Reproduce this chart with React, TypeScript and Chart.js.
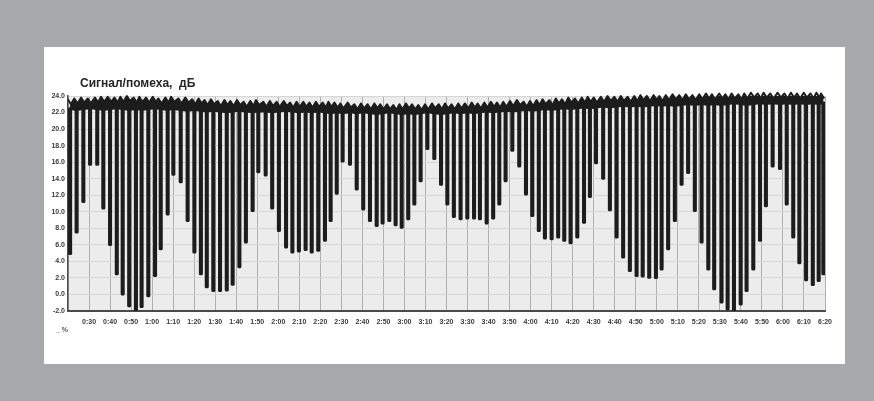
import React, { useEffect, useRef } from "react";
import { Chart, registerables } from "chart.js";
Chart.register(...registerables);

// Dip centres in minutes from the start of the recording
const dipTimes = [
  21.0, 24.1, 27.3, 30.5, 33.9, 36.8, 40.0, 43.2, 46.0, 49.1,
  52.3, 55.0, 58.2, 61.4, 64.1, 67.4, 70.1, 73.6, 76.9, 80.1,
  83.2, 86.0, 89.1, 92.3, 95.5, 98.3, 101.5, 104.6, 107.8, 110.5,
  114.0, 117.1, 120.3, 123.7, 126.7, 129.8, 133.0, 135.9, 139.0, 142.2,
  144.9, 147.8, 150.6, 154.1, 157.3, 160.4, 163.6, 166.8, 169.6, 172.8,
  175.8, 178.7, 181.8, 184.7, 187.7, 190.9, 194.2, 197.4, 200.4, 203.5,
  206.7, 209.9, 213.1, 215.9, 219.1, 222.2, 225.1, 228.1, 231.3, 234.6,
  237.8, 240.8, 243.9, 246.8, 250.0, 253.1, 256.0, 259.0, 262.2, 265.4,
  268.2, 271.1, 274.5, 277.7, 280.9, 284.0, 287.2, 290.4, 293.3, 296.4,
  299.6, 302.3, 305.4, 308.6, 311.8, 314.9, 318.1, 321.3, 324.5, 327.3,
  330.8, 333.7, 336.7, 339.9, 342.7, 345.9, 349.1, 351.9, 355.1, 358.6,
  361.8, 364.9, 367.8, 371.0, 374.2, 377.0, 379.2,
];

// Minimum S/N at each dip, dB
const dipMins = [
  4.8, 7.4, 11.1, 15.6, 15.6, 10.3, 5.9, 2.35, -0.1, -1.5,
  -2.2, -1.6, -0.3, 2.15, 5.4, 9.6, 14.4, 13.5, 8.8, 5.0,
  2.35, 0.8, 0.35, 0.35, 0.4, 1.1, 3.2, 6.2, 10.0, 14.7,
  14.3, 10.3, 7.6, 5.6, 5.0, 5.1, 5.3, 5.0, 5.2, 6.4,
  8.8, 12.1, 16.0, 15.6, 12.6, 10.2, 8.8, 8.2, 8.5, 8.8,
  8.3, 8.0, 9.0, 10.8, 13.6, 17.5, 16.3, 13.2, 10.8, 9.3,
  9.0, 9.1, 9.1, 9.0, 8.5, 9.1, 10.8, 13.6, 17.3, 15.4,
  12.0, 9.4, 7.6, 6.7, 6.6, 6.8, 6.4, 6.1, 6.8, 8.6,
  11.7, 15.8, 13.9, 10.1, 6.8, 4.4, 2.75, 2.15, 2.1, 1.95,
  1.9, 2.95, 5.4, 8.8, 13.2, 14.6, 10.0, 6.2, 2.95, 0.55,
  -1.05, -1.9, -2.2, -1.3, 0.35, 2.95, 6.4, 10.6, 15.4, 15.1,
  10.8, 6.8, 3.7, 1.65, 1.05, 1.55, 2.35,
];

// Peak S/N between dips, dB
const bandPeaks = [
  23.6, 23.7, 23.8, 23.7, 23.8, 23.9,
  23.9, 23.8, 23.9, 24.0, 23.8, 23.9, 23.8, 23.9, 23.7, 23.8, 23.9, 23.7, 23.8, 23.6, 23.7,
  23.5, 23.6, 23.4, 23.5, 23.4, 23.5, 23.3, 23.4, 23.5, 23.3, 23.4, 23.3, 23.4, 23.2, 23.3, 23.3, 23.2, 23.3, 23.2, 23.3,
  23.2, 23.1, 23.2, 23.0, 23.1, 23.0, 23.1, 23.0, 23.0, 22.9, 23.0, 23.1, 23.0, 22.9, 23.0, 23.1, 23.0, 23.1, 23.0, 23.1,
  23.1, 23.2, 23.1, 23.2, 23.3, 23.2, 23.3, 23.4, 23.5, 23.3, 23.4, 23.5, 23.6, 23.5, 23.7, 23.6, 23.8, 23.7, 23.8, 23.9,
  23.8, 23.9, 24.0, 23.9, 24.0, 23.9, 24.0, 24.1, 24.0, 24.1, 24.0, 24.1, 24.2, 24.1, 24.2, 24.1, 24.2, 24.3, 24.2, 24.3,
  24.2, 24.3, 24.2, 24.3, 24.4, 24.3, 24.4, 24.3, 24.4, 24.3, 24.4, 24.3, 24.4, 24.3, 24.4, 24.3,
];

// Lower edge of the dense top band, dB
const bandFloors = [
  22.3, 22.2, 22.3, 22.4, 22.3, 22.2, 22.3, 22.4, 22.3, 22.2,
  22.3, 22.2, 22.3, 22.4, 22.3, 22.2, 22.3, 22.2, 22.1, 22.2, 22.1,
  22.0, 22.1, 22.0, 21.9, 22.0, 22.1, 22.0, 21.9, 22.0, 22.0,
  21.9, 22.0, 22.1, 22.0, 21.9, 22.0, 21.9, 22.0, 21.9, 21.8,
  21.9, 21.8, 21.9, 21.8, 21.9, 21.8, 21.7, 21.8, 21.9, 21.8,
  21.7, 21.8, 21.7, 21.8, 21.9, 21.8, 21.7, 21.8, 21.9, 21.8,
  21.9, 21.8, 21.9, 22.0, 21.9, 22.0, 22.1, 22.0, 22.1, 22.2,
  22.1, 22.2, 22.3, 22.2, 22.3, 22.4, 22.3, 22.4, 22.5, 22.4,
  22.5, 22.6, 22.5, 22.6, 22.7, 22.6, 22.7, 22.6, 22.7, 22.8,
  22.7, 22.8, 22.7, 22.8, 22.9, 22.8, 22.9, 22.8, 22.9, 22.8,
  22.9, 23.0, 22.9, 22.8, 22.9, 23.0, 22.9, 23.0, 22.9, 23.0,
  22.9, 23.0, 22.9, 23.0, 22.9, 23.0,
];

const xTickLabels = [
  "", "0:30", "0:40", "0:50", "1:00", "1:10", "1:20", "1:30", "1:40", "1:50",
  "2:00", "2:10", "2:20", "2:30", "2:40", "2:50", "3:00", "3:10", "3:20", "3:30",
  "3:40", "3:50", "4:00", "4:10", "4:20", "4:30", "4:40", "4:50", "5:00", "5:10",
  "5:20", "5:30", "5:40", "5:50", "6:00", "6:10", "6:20",
];

const titleText = "Сигнал/помеха,  дБ";
const unitText = "_ %";

const INK = "#1c1c1c";

export default function App() {
  const ref = useRef<HTMLCanvasElement | null>(null);

  useEffect(() => {
    const canvas = ref.current;
    if (!canvas) return;

    const peakPts: { x: number; y: number }[] = [];
    dipTimes.forEach((t, i) => {
      peakPts.push({ x: t - 1.1, y: bandPeaks[i] });
      peakPts.push({ x: t + 0.4, y: bandPeaks[i] - 0.6 });
    });
    const floorPts = dipTimes.map((t, i) => ({ x: t, y: bandFloors[i] }));
    const barPts = dipTimes.map((t, i) => ({ x: t, y: [dipMins[i], bandFloors[i] + 0.3] }));

    const plotBg = {
      id: "plotBg",
      beforeDraw(chart: any) {
        const { ctx, chartArea } = chart;
        ctx.save();
        ctx.fillStyle = "#ececec";
        ctx.fillRect(chartArea.left, chartArea.top, chartArea.right - chartArea.left, chartArea.bottom - chartArea.top);
        ctx.restore();
      },
      afterDraw(chart: any) {
        const { ctx } = chart;
        ctx.save();
        ctx.fillStyle = "#262626";
        ctx.font = "bold 12px 'Liberation Sans', Arial, sans-serif";
        ctx.textBaseline = "middle";
        ctx.textAlign = "left";
        ctx.fillText(titleText, 36, 37);
        ctx.fillStyle = "#555";
        ctx.font = "bold 7px 'Liberation Sans', Arial, sans-serif";
        ctx.fillText(unitText, 12, 283);
        ctx.restore();
      },
    };

    const tickFont = { family: "'Liberation Sans', Arial, sans-serif", size: 7, weight: "bold" as const };

    const chart = new Chart(canvas, {
      type: "bar",
      data: {
        datasets: [
          {
            type: "line",
            label: "peak",
            data: peakPts,
            borderColor: INK,
            backgroundColor: INK,
            borderWidth: 2,
            borderJoinStyle: "round",
            pointRadius: 0,
            tension: 0,
            fill: "+1",
            clip: { left: 0, top: 8, right: 2, bottom: 0 },
            order: 2,
          } as any,
          {
            type: "line",
            label: "floor",
            data: floorPts,
            borderColor: "rgba(0,0,0,0)",
            borderWidth: 0,
            pointRadius: 0,
            fill: false,
            order: 3,
          } as any,
          {
            type: "bar",
            label: "dips",
            data: barPts as any,
            backgroundColor: INK,
            barThickness: 3.4,
            borderRadius: 1.5,
            borderSkipped: false,
            order: 1,
          } as any,
        ],
      },
      options: {
        animation: false,
        responsive: false,
        maintainAspectRatio: false,
        layout: { padding: { top: 49, right: 20, bottom: 33, left: 0 } },
        plugins: { legend: { display: false }, tooltip: { enabled: false }, title: { display: false } },
        scales: {
          x: {
            type: "linear",
            min: 20,
            max: 380,
            offset: false,
            afterFit: (s: any) => { s.height = 20; },
            grid: { color: "#b0b0b0", lineWidth: 1, drawTicks: false, offset: false },
            border: { color: "#4a4a4a", width: 2 },
            ticks: {
              stepSize: 10,
              autoSkip: false,
              maxRotation: 0,
              padding: 7,
              color: "#3a3a3a",
              font: tickFont,
              callback: (v: any) => {
                const idx = Math.round((Number(v) - 20) / 10);
                return xTickLabels[idx] ?? "";
              },
            },
          },
          y: {
            min: -2,
            max: 24,
            afterFit: (s: any) => { s.width = 24; },
            grid: { color: "#d6d6d6", lineWidth: 1, drawTicks: false },
            border: { color: "#4a4a4a", width: 1.5 },
            ticks: {
              stepSize: 2,
              padding: 3,
              color: "#3a3a3a",
              font: tickFont,
              callback: (v: any) => Number(v).toFixed(1),
            },
          },
        },
      },
      plugins: [plotBg],
    });

    return () => chart.destroy();
  }, []);

  return (
    <div style={{ position: "fixed", left: 0, top: 0, width: 874, height: 401, background: "#a7a8ab" }}>
      <div style={{ position: "absolute", left: 44, top: 47, width: 801, height: 317, background: "#ffffff" }}>
        <canvas ref={ref} width={801} height={317} style={{ width: 801, height: 317, display: "block" }} />
      </div>
    </div>
  );
}
